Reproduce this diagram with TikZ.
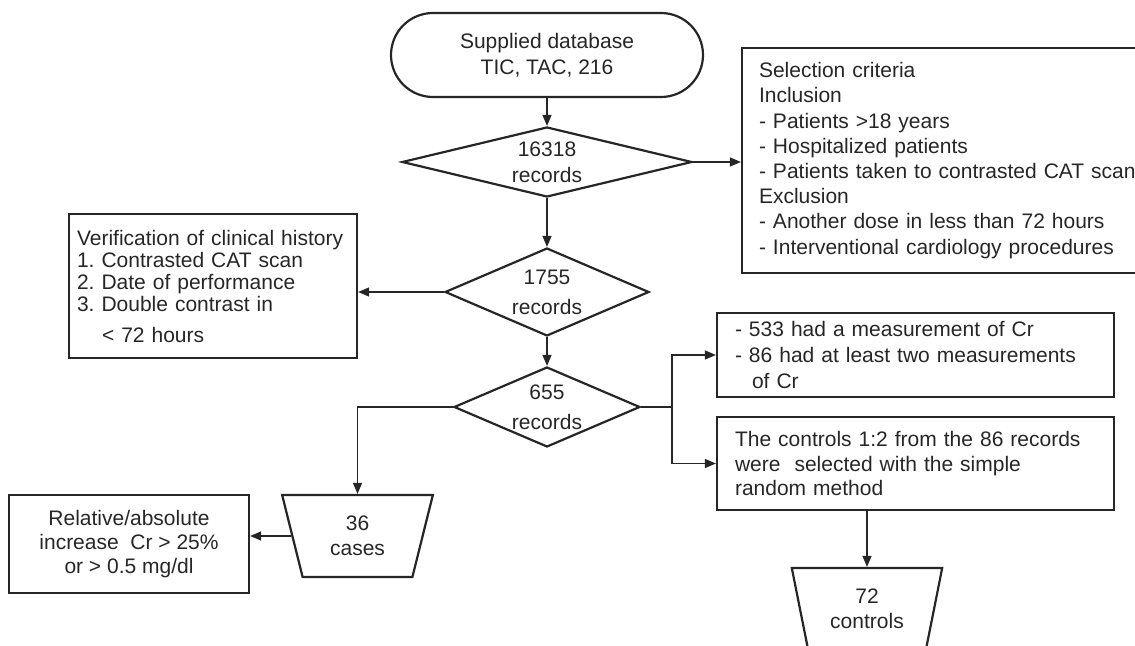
\documentclass[tikz,border=0pt]{standalone}
\usepackage{fontspec}
\setmainfont{Liberation Sans}
\frenchspacing
\usetikzlibrary{shapes.geometric,arrows.meta}

\begin{document}
\begin{tikzpicture}[x=0.5pt,y=-0.5pt,line width=0.65pt,color=black!85,
  font=\fontsize{10.5pt}{12.6pt}\selectfont,
  >={Triangle[length=5.5pt,width=4.5pt]},
  box/.style={rectangle,draw,line width=1.1pt,inner sep=0pt},
  dia/.style={diamond,draw,line width=1.1pt,inner sep=0pt,align=center,font=\fontsize{10.5pt}{15pt}\selectfont},
  trap/.style={trapezium,shape border rotate=180,trapezium left angle=75.6,trapezium right angle=75.6,
    trapezium stretches=true,minimum width=75.5pt,minimum height=41pt,draw,line width=1.1pt,inner sep=0pt,
    align=center,font=\fontsize{10.5pt}{12.5pt}\selectfont}]
\useasboundingbox (0,0) rectangle (1135,646);

\node (S)[rectangle,rounded corners=21pt,draw,line width=1.1pt,minimum width=156pt,minimum height=42pt,
  align=center,font=\fontsize{10.5pt}{13pt}\selectfont] at (547,55) {Supplied database\\TIC, TAC, 216};
\node (D1)[dia,aspect=4.14,minimum width=145pt,minimum height=35pt,font=\fontsize{10.5pt}{13pt}\selectfont] at (547,162) {16318\\records};
\node (D2)[dia,aspect=2.32,minimum width=102pt,minimum height=44pt] at (547,292) {1755\\records};
\node (D3)[dia,aspect=2.33,minimum width=93pt,minimum height=40pt] at (547,407) {655\\records};

\node (C1)[box,inner xsep=8.5pt,minimum height=112.5pt,text width=200pt,align=left] at (959,160.5)
  {Selection criteria\\Inclusion\\- Patients >18 years\\- Hospitalized patients\\- Patients taken to contrasted CAT scan\\Exclusion\\- Another dose in less than 72 hours\\- Interventional cardiology procedures};
\node (V)[box,minimum width=144pt,minimum height=72pt,text width=136pt,align=left,font=\fontsize{10.5pt}{11pt}\selectfont] at (213,286)
  {Verification of clinical history\\1. Contrasted CAT scan\\2. Date of performance\\3. Double contrast in\\[4.5pt]\hspace*{12.5pt}< 72 hours};

\node (B1)[box,minimum width=198.5pt,minimum height=42pt,text width=180.5pt,align=left,font=\fontsize{10.5pt}{12.8pt}\selectfont] at (915.5,355)
  {- 533 had a measurement of Cr\\- 86 had at least two measurements\\\hspace*{8.5pt}of Cr};
\node (B2)[box,minimum width=198.5pt,minimum height=46.5pt,text width=180.5pt,align=left,font=\fontsize{10.5pt}{12.3pt}\selectfont] at (915.5,463.5)
  {The controls 1:2 from the 86 records\\were\ \ selected with the simple\\random method};

\node (T1)[trap] at (357.5,536) {36\\cases};
\node (R)[box,minimum width=120pt,minimum height=49pt,align=center,font=\fontsize{10.5pt}{12pt}\selectfont] at (129,544)
  {Relative/absolute\\increase\ \ Cr > 25\%\\or > 0.5 mg/dl};
\node (T2)[trap] at (867,609) {72\\controls};

\draw[->] (S) -- (D1);
\draw[->] (D1.east) -- (D1.east -| C1.west);
\draw[->] (D1) -- (D2);
\draw[->] (D2.west) -- (D2.west -| V.east);
\draw[->] (D2) -- (D3);
\draw[->] (D3.west) -| (T1.north);
\draw[->] (T1.west) -- (T1.west -| R.east);
\coordinate (J) at (672,407);
\draw (D3.east) -- (J);
\draw[->] (J) |- (B1.west);
\draw[->] (J) |- (B2.west);
\draw[->] (T2.north |- B2.south) -- (T2.north);
\end{tikzpicture}
\end{document}
